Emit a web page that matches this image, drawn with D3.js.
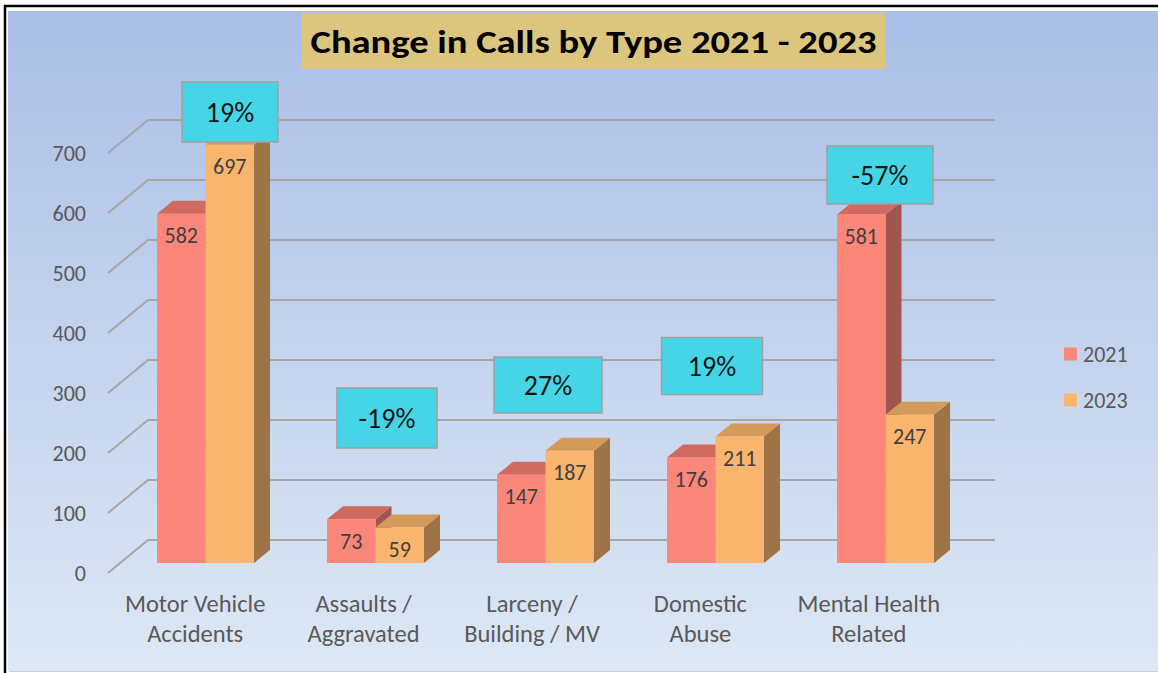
<!DOCTYPE html>
<html><head><meta charset="utf-8">
<script src="https://cdn.jsdelivr.net/npm/d3@7"></script>
<style>html,body{margin:0;padding:0;background:#fff;}svg{display:block;}</style>
</head><body>
<script>
const categories = [["Motor Vehicle","Accidents"],["Assaults /","Aggravated"],["Larceny /","Building / MV"],["Domestic","Abuse"],["Mental Health","Related"]];
const seriesNames = ["2021","2023"];
const values2021 = [582, 73, 147, 176, 581];
const values2023 = [697, 59, 187, 211, 247];
const pctLabels = ["19%","-19%","27%","19%","-57%"];
const yTicks = [0,100,200,300,400,500,600,700];
const title = "Change in Calls by Type 2021 - 2023";

// layout of percent callout boxes (pixel centers, sizes)
const boxLayout = [
  {cx:230, cy:112, w:96, h:60},
  {cx:387, cy:418, w:100, h:60},
  {cx:548, cy:385, w:108, h:56},
  {cx:712, cy:366, w:101, h:57},
  {cx:880, cy:175, w:106, h:58}
];

const W=1158, H=673;
const FONT = "Carlito, Calibri, Lato, 'Open Sans', sans-serif";
const svg = d3.select("body").append("svg").attr("width",W).attr("height",H);
const defs = svg.append("defs");
const grad = defs.append("linearGradient").attr("id","bg").attr("x1",0).attr("y1",0).attr("x2",0).attr("y2",1);
grad.append("stop").attr("offset","0%").attr("stop-color","#aabee6");
grad.append("stop").attr("offset","100%").attr("stop-color","#dde8f5");

svg.append("rect").attr("x",0).attr("y",0).attr("width",W).attr("height",H).attr("fill","#ffffff");
svg.append("rect").attr("x",8).attr("y",11).attr("width",W-8).attr("height",660).attr("fill","url(#bg)");
svg.append("line").attr("x1",9).attr("x2",W).attr("y1",671.5).attr("y2",671.5).attr("stroke","#d0d0d0").attr("stroke-width",1);
svg.append("line").attr("x1",4).attr("x2",W).attr("y1",6).attr("y2",6).attr("stroke","#000").attr("stroke-width",2.5);
svg.append("line").attr("x1",5).attr("x2",5).attr("y1",5).attr("y2",H).attr("stroke","#000").attr("stroke-width",2.5);

// scales
const y = d3.scaleLinear().domain([0,700]).range([563,143]);
const x = d3.scaleBand().domain(d3.range(categories.length)).range([115,965]).paddingInner(0).paddingOuter(0);
const xLabel = d3.scaleBand().domain(d3.range(categories.length)).range([111,953]);
const xs = d3.scaleBand().domain(seriesNames).range([0,97]);
const axisDy = 10, wallDx = 40, wallDy = 33, axisX = 108, gridRight = 995;
const depthDx = 16, depthDy = 13;

// gridlines
const grid = svg.append("g");
yTicks.forEach(v=>{
  const ya = y(v)+axisDy;
  grid.append("path").attr("d",`M${axisX},${ya} L${axisX+wallDx},${ya-wallDy} L${gridRight},${ya-wallDy}`)
    .attr("fill","none").attr("stroke","#a6a6a6").attr("stroke-width",2);
  svg.append("text").attr("x",86).attr("y",ya).attr("text-anchor","end").attr("dominant-baseline","central")
    .attr("font-family",FONT).attr("font-size",22).attr("fill","#595959").text(v);
});

// bars
const colors = {
  "2021": {front:"#fb877a", top:"#d06a61", side:"#a0564e"},
  "2023": {front:"#f9b46d", top:"#d49a59", side:"#9e7345"}
};
const seriesVals = {"2021":values2021,"2023":values2023};
const bars = svg.append("g");
categories.forEach((c,i)=>{
  seriesNames.forEach(s=>{
    const v = seriesVals[s][i];
    const x0 = x(i)+42+xs(s), w = xs.bandwidth();
    const yt = y(v), yb = y(0);
    const col = colors[s];
    bars.append("path").attr("d",`M${x0+w},${yt} L${x0+w+depthDx},${yt-depthDy} L${x0+w+depthDx},${yb-depthDy} L${x0+w},${yb}Z`).attr("fill",col.side);
    bars.append("path").attr("d",`M${x0},${yt} L${x0+w},${yt} L${x0+w+depthDx},${yt-depthDy} L${x0+depthDx},${yt-depthDy}Z`).attr("fill",col.top);
    bars.append("rect").attr("x",x0).attr("y",yt).attr("width",w).attr("height",yb-yt).attr("fill",col.front);
    bars.append("text").attr("x",x0+w/2).attr("y",yt+22).attr("text-anchor","middle").attr("dominant-baseline","central")
      .attr("font-family",FONT).attr("font-size",22).attr("fill","#404040").text(v);
  });
  // category label
  const cx = xLabel(i)+xLabel.bandwidth()/2;
  c.forEach((line,k)=>{
    svg.append("text").attr("x",cx).attr("y",604+k*30).attr("text-anchor","middle").attr("dominant-baseline","central")
      .attr("font-family",FONT).attr("font-size",24.5).attr("fill","#595959").text(line);
  });
});

// percent boxes
pctLabels.forEach((p,i)=>{
  const b = boxLayout[i];
  svg.append("rect").attr("x",b.cx-b.w/2).attr("y",b.cy-b.h/2).attr("width",b.w).attr("height",b.h)
    .attr("fill","#46d5e6").attr("stroke","#a0a0a0").attr("stroke-width",1.5);
  svg.append("text").attr("x",b.cx).attr("y",b.cy).attr("text-anchor","middle").attr("dominant-baseline","central")
    .attr("font-family",FONT).attr("font-size",28).attr("fill","#161616").text(p);
});

// title
svg.append("rect").attr("x",302).attr("y",13).attr("width",583).attr("height",56).attr("fill","#dcc67e");
svg.append("text").attr("x",593.5).attr("y",42).attr("text-anchor","middle").attr("dominant-baseline","central")
  .attr("font-family",FONT).attr("font-weight","bold").attr("font-size",33).attr("fill","#000")
  .attr("textLength",566).attr("lengthAdjust","spacingAndGlyphs").text(title);

// legend
seriesNames.forEach((s,k)=>{
  const ly = 354 + k*46;
  svg.append("rect").attr("x",1064).attr("y",ly-6.5).attr("width",13).attr("height",13).attr("fill",colors[s].front);
  svg.append("text").attr("x",1083).attr("y",ly).attr("dominant-baseline","central")
    .attr("font-family",FONT).attr("font-size",22).attr("fill","#595959").text(s);
});
</script>
</body></html>
